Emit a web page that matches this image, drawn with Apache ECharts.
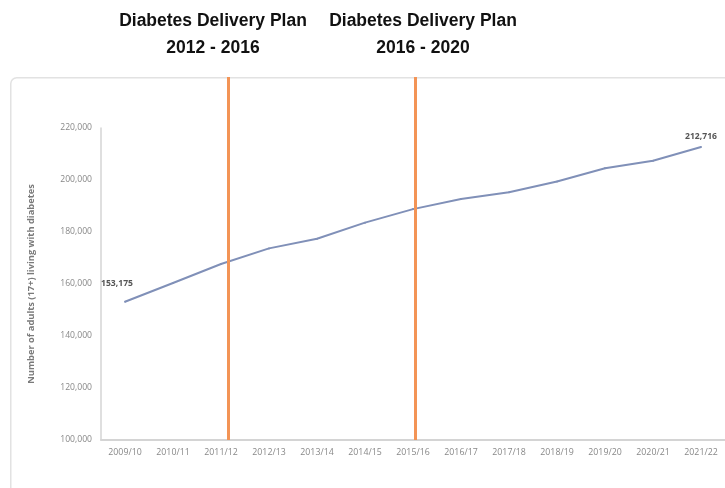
<!DOCTYPE html>
<html>
<head>
<meta charset="utf-8">
<script src="https://cdn.jsdelivr.net/npm/echarts@6/dist/echarts.min.js"></script>
<style>html,body{margin:0;padding:0;background:#fff;}#c{width:725px;height:488px;}</style>
</head>
<body>
<div id="c"></div>
<script>
const categories = ['2009/10','2010/11','2011/12','2012/13','2013/14','2014/15','2015/16','2016/17','2017/18','2018/19','2019/20','2020/21','2021/22'];
const adults = [153175, 160400, 167700, 173700, 177400, 183600, 188800, 192700, 195300, 199400, 204500, 207400, 212716];
const yTicks = [100000, 120000, 140000, 160000, 180000, 200000, 220000];
// plan boundaries, in category-band units from the left edge of the axis
const planMarkers = [2.65, 6.55];
const planTitles = ['Diabetes Delivery Plan\n2012 - 2016', 'Diabetes Delivery Plan\n2016 - 2020'];

const chart = echarts.init(document.getElementById('c'));
const seriesData = adults.map((v, i) => {
  if (i === 0) return { value: v, label: { show: true, position: 'top', offset: [-8, -8] } };
  if (i === adults.length - 1) return { value: v, label: { show: true, position: 'top', offset: [0, 0] } };
  return v;
});
const fmt = v => v.toLocaleString('en-US');

chart.setOption({
  animation: false,
  backgroundColor: '#fff',
  title: planTitles.map((t, i) => ({
    text: t,
    left: i === 0 ? 208 : 418,
    top: 3,
    textAlign: 'center',
    textStyle: { fontFamily: 'Liberation Sans', fontWeight: 'bold', fontSize: 17.5, lineHeight: 27, color: '#111' }
  })),
  graphic: [{
    type: 'rect', left: 10, top: 77, z: -10,
    shape: { width: 740, height: 440, r: 6 },
    style: { fill: '#fff', stroke: '#e2e2e2', lineWidth: 1.5 }
  }],
  grid: [
    { left: 101, right: 0, top: 128, bottom: 48 },
    { left: 101, right: 0, top: 77, bottom: 48 }
  ],
  xAxis: [
    {
      type: 'category', data: categories, gridIndex: 0, boundaryGap: true,
      axisLine: { lineStyle: { color: '#d4d4d4', width: 2 } },
      axisTick: { show: false },
      axisLabel: { color: '#888', fontSize: 8.8, fontFamily: 'Open Sans', margin: 8, interval: 0 }
    },
    { type: 'value', gridIndex: 1, min: 0, max: categories.length, show: false }
  ],
  yAxis: [
    {
      type: 'value', gridIndex: 0, min: 100000, max: 220000, interval: 20000,
      name: 'Number of adults (17+) living with diabetes',
      nameLocation: 'middle', nameGap: 65,
      nameTextStyle: { color: '#7a7a7a', fontSize: 9.3, fontWeight: 'bold', fontFamily: 'Open Sans' },
      axisLine: { show: true, lineStyle: { color: '#d4d4d4', width: 1.5 } },
      axisTick: { show: false },
      splitLine: { show: false },
      axisLabel: { color: '#888', fontSize: 8.6, fontFamily: 'Open Sans', margin: 9, formatter: fmt }
    },
    { type: 'value', gridIndex: 1, min: 0, max: 1, show: false }
  ],
  series: [
    {
      type: 'line', xAxisIndex: 0, yAxisIndex: 0, data: seriesData,
      symbol: 'circle', symbolSize: 2, showSymbol: true,
      itemStyle: { color: '#8090b8' },
      lineStyle: { color: '#8090b8', width: 2 },
      label: { color: '#555', fontSize: 8.6, fontWeight: 'bold', fontFamily: 'Open Sans', formatter: p => fmt(p.value) },
      z: 3
    },
    {
      type: 'line', xAxisIndex: 1, yAxisIndex: 1, data: [],
      markLine: {
        symbol: 'none', silent: true, label: { show: false },
        lineStyle: { color: '#f39456', width: 3, type: 'solid' },
        data: planMarkers.map(x => ({ xAxis: x }))
      },
      z: 2
    }
  ]
});
</script>
</body>
</html>
